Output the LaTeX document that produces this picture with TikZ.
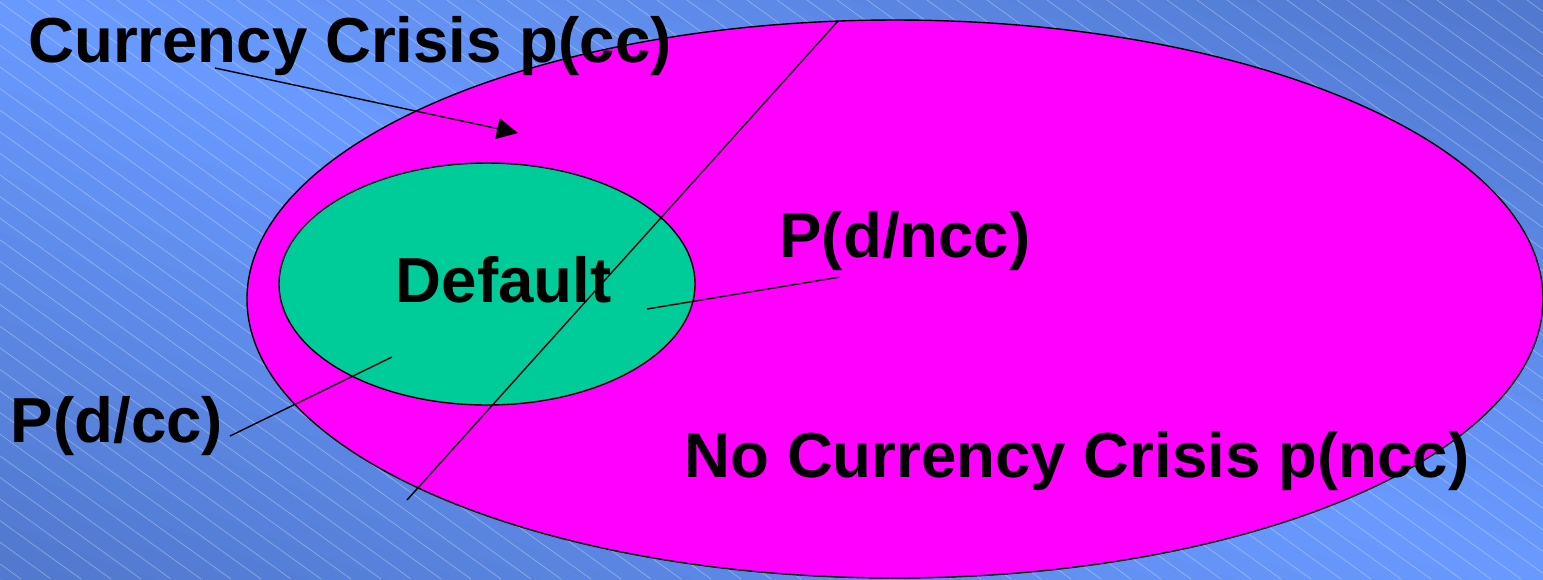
\documentclass[tikz,border=0pt]{standalone}
\usepackage{fontspec}
\setmainfont{Liberation Sans}
\usetikzlibrary{arrows.meta}
\definecolor{BgLight}{RGB}{104,154,255}
\definecolor{BgDark}{RGB}{80,120,204}
\definecolor{Crisis}{RGB}{255,0,255}
\definecolor{Dflt}{RGB}{0,204,153}

\begin{document}
\begin{tikzpicture}[>={Triangle[length=6pt,width=6pt]},
  lbl/.style={font=\bfseries\fontsize{18.1}{20}\selectfont, inner sep=0pt, anchor=base},
  thin line/.style={line width=0.4pt}]
\useasboundingbox (0,0) rectangle (15.43,-5.79);
\begin{scope}
\clip (0,0) rectangle (15.43,-5.79);
\begin{scope}[shift={(7.715,-2.895)}, rotate=-20.6]
\foreach \k in {0,...,39} {
  \pgfmathsetmacro\ya{-5.43+0.2715*\k}
  \pgfmathsetmacro\mix{100*(1-abs(\ya+0.13575)/5.43)}
  \fill[BgLight!\mix!BgDark] (-10,\ya) rectangle (10,\ya+0.28);
}
\end{scope}
\foreach \i in {-28,...,52}
  \draw[white, opacity=0.33, line width=0.2pt] ({0.27+0.3*\i},0) -- ++(8.04,-5.79);
\end{scope}

\filldraw[fill=Crisis, thin line] (8.95,-2.99) ellipse [x radius=6.48, y radius=2.79];
\filldraw[fill=Dflt, thin line] (4.87,-2.84) ellipse [x radius=2.08, y radius=1.21];

\node[lbl] (cc) at (3.50,-0.62) {Currency Crisis p(cc)};
\node[lbl] (dflt) at (5.035,-3.02) {Default};
\node[lbl] (dncc) at (9.05,-2.57) {P(d/ncc)};
\node[lbl] (dcc) at (1.17,-4.42) {P(d/cc)};
\node[lbl] (ncc) at (10.77,-4.77) {No Currency Crisis p(ncc)};

\coordinate (cc-tail) at (2.15,-0.68);
\coordinate (cc-tip) at (5.18,-1.33);
\coordinate (split-top) at (8.38,-0.21);
\coordinate (split-bot) at (4.07,-5.00);
\coordinate (dncc-end) at (8.40,-2.77);
\coordinate (dncc-in) at (6.47,-3.09);
\coordinate (dcc-end) at (2.30,-4.36);
\coordinate (dcc-in) at (3.92,-3.57);

\draw[->, thin line] (cc-tail) -- (cc-tip);
\draw[thin line] (split-top) -- (split-bot);
\draw[thin line] (dncc-end) -- (dncc-in);
\draw[thin line] (dcc-end) -- (dcc-in);
\end{tikzpicture}
\end{document}
